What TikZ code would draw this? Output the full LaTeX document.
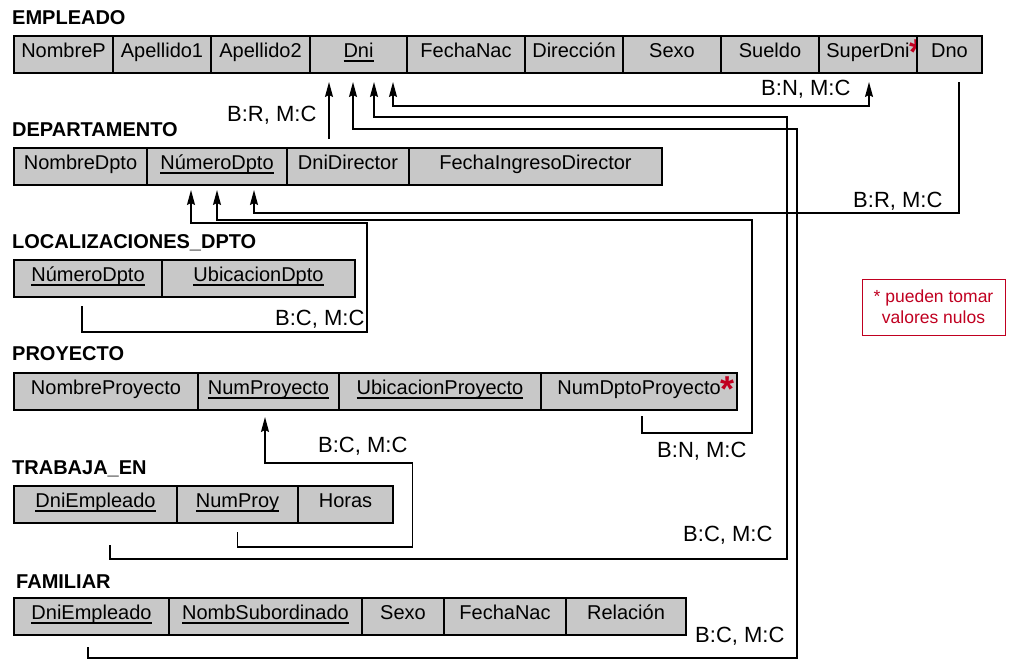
\documentclass[tikz,border=0pt]{standalone}
\usepackage{fontspec}
\setmainfont{Liberation Sans}
\usetikzlibrary{arrows.meta,positioning}

\definecolor{cellgray}{RGB}{200,200,200}
\definecolor{nullred}{RGB}{192,0,32}
% underlined key attribute, fixed rule position
\newcommand{\ukey}[1]{\setbox0\hbox{#1}\rlap{\rule[-4.5pt]{\wd0}{1.2pt}}\box0}
% red asterisk: value may be null
\newcommand{\nulo}{\rlap{\raisebox{-7pt}{\color{nullred}\fontsize{36}{36}\selectfont\bfseries *}}}

\begin{document}
\begin{tikzpicture}[x=1pt,y=-1pt]
  %----- styles
  \tikzset{
    cell/.style  ={draw,line width=1.6pt,fill=cellgray,minimum height=37pt,inner sep=0pt,outer sep=0pt,
                   text height=13pt,text depth=8pt,font=\fontsize{20}{22}\selectfont},
    title/.style ={anchor=base west,inner sep=0pt,font=\fontsize{20}{24}\selectfont\bfseries},
    lbl/.style   ={anchor=base west,inner sep=0pt,font=\fontsize{22}{26}\selectfont},
    fk/.style    ={-{Stealth[length=15pt,width=8pt,inset=2pt]},line width=1.6pt},
    fkboth/.style={{Stealth[length=15pt,width=8pt,inset=2pt]}-{Stealth[length=15pt,width=8pt,inset=2pt]},line width=1.6pt},
    legend/.style={draw=nullred,line width=1pt,text=nullred,align=center,minimum width=143pt,
                   minimum height=56pt,font=\fontsize{17.5}{21}\selectfont}
  }
  \useasboundingbox (0,0) rectangle (1024,667);

  %==================== TABLES ====================
  % EMPLEADO
  \node[title] (tEmp) at (12,24) {EMPLEADO};
  \node[cell,minimum width=99pt,anchor=north west] (ENom) at (14,36) {NombreP};
  \node[cell,minimum width=98pt,right=0pt of ENom] (EAp1) {Apellido1};
  \node[cell,minimum width=99pt,right=0pt of EAp1] (EAp2) {Apellido2};
  \node[cell,minimum width=97pt,right=0pt of EAp2] (EDni) {\ukey{Dni}};
  \node[cell,minimum width=118pt,right=0pt of EDni] (EFec) {FechaNac};
  \node[cell,minimum width=98pt,right=0pt of EFec] (EDir) {Dirección};
  \node[cell,minimum width=98pt,right=0pt of EDir] (ESex) {Sexo};
  \node[cell,minimum width=98pt,right=0pt of ESex] (ESue) {Sueldo};
  \node[cell,minimum width=98pt,right=0pt of ESue] (ESup) {SuperDni\nulo};
  \node[cell,minimum width=65pt,right=0pt of ESup] (EDno) {Dno};

  % DEPARTAMENTO
  \node[title] (tDep) at (12,136) {DEPARTAMENTO};
  \node[cell,minimum width=133pt,anchor=north west] (DNom) at (14,148) {NombreDpto};
  \node[cell,minimum width=140pt,right=0pt of DNom] (DNum) {\ukey{NúmeroDpto}};
  \node[cell,minimum width=122pt,right=0pt of DNum] (DDir) {DniDirector};
  \node[cell,minimum width=253pt,right=0pt of DDir] (DFec) {FechaIngresoDirector};

  % LOCALIZACIONES_DPTO
  \node[title] (tLoc) at (12,248) {LOCALIZACIONES\_DPTO};
  \node[cell,minimum width=148pt,anchor=north west] (LNum) at (14,260) {\ukey{NúmeroDpto}};
  \node[cell,minimum width=193pt,right=0pt of LNum] (LUbi) {\ukey{UbicacionDpto}};

  % PROYECTO
  \node[title] (tPro) at (12,360) {PROYECTO};
  \node[cell,minimum width=184pt,anchor=north west] (PNom) at (14,373) {NombreProyecto};
  \node[cell,minimum width=141pt,right=0pt of PNom] (PNum) {\ukey{NumProyecto}};
  \node[cell,minimum width=202pt,right=0pt of PNum] (PUbi) {\ukey{UbicacionProyecto}};
  \node[cell,minimum width=196pt,right=0pt of PUbi] (PDpt) {NumDptoProyecto\nulo};

  % TRABAJA_EN
  \node[title] (tTra) at (12,474) {TRABAJA\_EN};
  \node[cell,minimum width=163pt,anchor=north west] (TDni) at (14,486) {\ukey{DniEmpleado}};
  \node[cell,minimum width=121pt,right=0pt of TDni] (TNum) {\ukey{NumProy}};
  \node[cell,minimum width=95pt,right=0pt of TNum] (THor) {Horas};

  % FAMILIAR
  \node[title] (tFam) at (16,588) {FAMILIAR};
  \node[cell,minimum width=155pt,anchor=north west] (FDni) at (14,598) {\ukey{DniEmpleado}};
  \node[cell,minimum width=193pt,right=0pt of FDni] (FSub) {\ukey{NombSubordinado}};
  \node[cell,minimum width=82pt,right=0pt of FSub] (FSex) {Sexo};
  \node[cell,minimum width=122pt,right=0pt of FSex] (FFec) {FechaNac};
  \node[cell,minimum width=120pt,right=0pt of FFec] (FRel) {Relación};

  % note on nulls
  \node[legend] (nulos) at (933.5,307) {* pueden tomar\\valores nulos};

  %==================== FOREIGN KEYS ====================
  % DniDirector -> Dni
  \draw[fk] ([xshift=-19pt,yshift=9pt]DDir.north) -- ([xshift=-29.5pt,yshift=-9pt]EDni.south);
  \node[lbl] (l1) at (227,121) {B:R, M:C};

  % SuperDni <-> Dni
  \draw[fkboth] ([xshift=1pt,yshift=-9pt]ESup.south) -- ++(0,24) -| ([xshift=34.5pt,yshift=-9pt]EDni.south);
  \node[lbl] (l2) at (761,95) {B:N, M:C};

  % TRABAJA_EN.DniEmpleado -> Dni
  \draw[fk] ([xshift=14.5pt,yshift=-22pt]TDni.south) -- ++(0,14) -- ++(677,0) -- ++(0,-442)
    -| ([xshift=15.5pt,yshift=-9pt]EDni.south);
  \node[lbl] (l7) at (683,541) {B:C, M:C};

  % FAMILIAR.DniEmpleado -> Dni
  \draw[fk] ([xshift=-3.5pt,yshift=-12pt]FDni.south) -- ++(0,11) -- ++(709,0) -- ++(0,-529)
    -| ([xshift=-5.5pt,yshift=-9pt]EDni.south);
  \node[lbl] (l8) at (695,642) {B:C, M:C};

  % Dno -> NumeroDpto
  \draw[fk] ([xshift=9.5pt,yshift=-9pt]EDno.south) -- ++(0,131) -| ([xshift=37pt,yshift=-5pt]DNum.south);
  \node[lbl] (l3) at (853,207) {B:R, M:C};

  % LOCALIZACIONES_DPTO.NumeroDpto -> NumeroDpto
  \draw[fk] ([xshift=-6pt,yshift=-9pt]LNum.south) -- ++(0,26) -- ++(285,0) -- ++(0,-109)
    -| ([xshift=-26pt,yshift=-5pt]DNum.south);
  \node[lbl] (l4) at (275,325) {B:C, M:C};

  % NumDptoProyecto -> NumeroDpto
  \draw[fk] ([xshift=3pt,yshift=-6pt]PDpt.south) -- ++(0,17) -- ++(110,0) -- ++(0,-213)
    -| ([yshift=-5pt]DNum.south);
  \node[lbl] (l5) at (657,457) {B:N, M:C};

  % TRABAJA_EN.NumProy -> NumProyecto
  \draw[fk] ([yshift=-9pt]TNum.south) -- ++(0,15) -- ++(175,0) -- ++(0,-84)
    -| ([xshift=-3.5pt,yshift=-7pt]PNum.south);
  \node[lbl] (l6) at (318,452) {B:C, M:C};

\end{tikzpicture}
\end{document}
